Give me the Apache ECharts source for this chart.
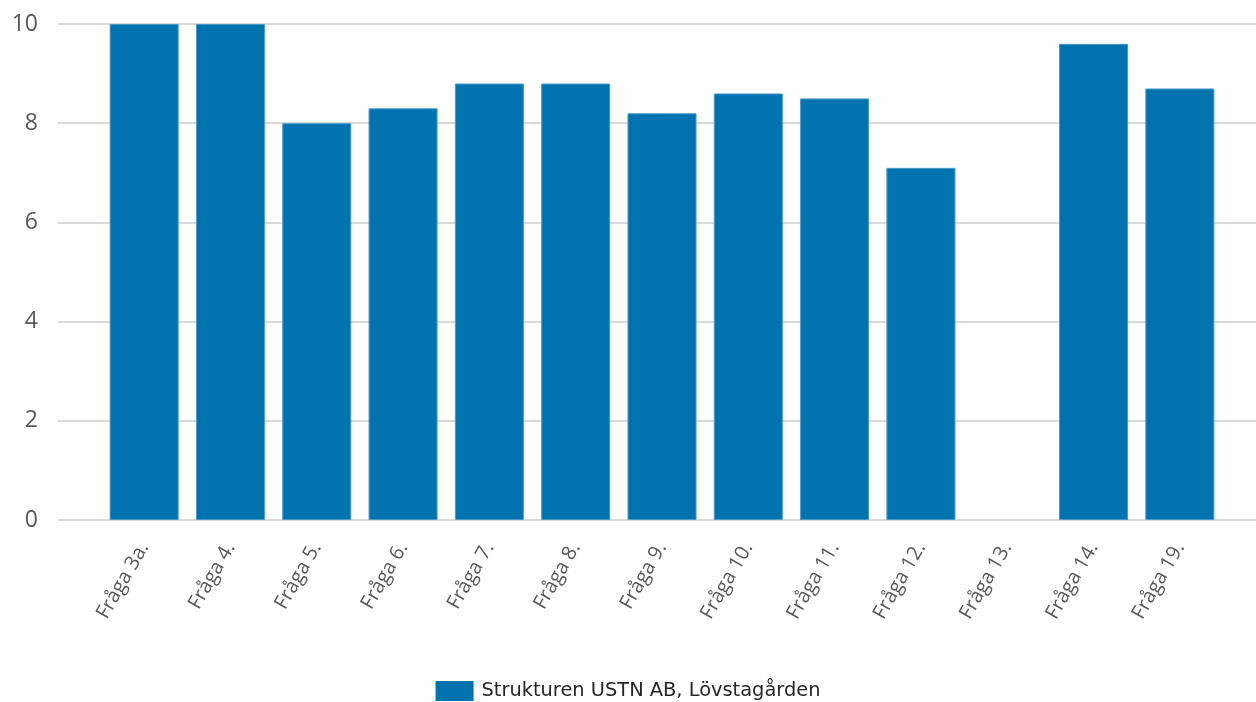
<!DOCTYPE html>
<html><head><meta charset="utf-8">
<script src="https://cdn.jsdelivr.net/npm/echarts@6/dist/echarts.min.js"></script>
<style>html,body{margin:0;padding:0;background:#fff}#c{width:1256px;height:702px}</style>
</head><body><div id="c"></div>
<script>
const categories = ['Fråga 3a.','Fråga 4.','Fråga 5.','Fråga 6.','Fråga 7.','Fråga 8.','Fråga 9.','Fråga 10.','Fråga 11.','Fråga 12.','Fråga 13.','Fråga 14.','Fråga 19.'];
const values = [10, 10, 8.0, 8.3, 8.8, 8.8, 8.2, 8.6, 8.5, 7.1, null, 9.6, 8.7];
const seriesName = 'Strukturen USTN AB, Lövstagården';
const yTicks = {min: 0, max: 10, interval: 2};

const chart = echarts.init(document.getElementById('c'));
chart.setOption({
  animation: false,
  legend: {
    bottom: 1, left: 'center', padding: 0,
    icon: 'rect',
    itemWidth: 38, itemHeight: 20, itemGap: 10,
    itemStyle: {borderWidth: 0},
    textStyle: {fontFamily: 'DejaVu Sans', fontSize: 19.4, color: '#262626', padding: [0, 0, 0, 3]},
    data: [seriesName]
  },
  grid: [
    {left: 58, right: 0, top: 24, bottom: 182, containLabel: false},
    {left: 101, right: 33, top: 24, bottom: 182, containLabel: false}
  ],
  xAxis: [
    {gridIndex: 0, type: 'category', data: categories, show: false},
    {gridIndex: 1, type: 'category', data: categories,
      axisLine: {show: false}, axisTick: {show: false},
      axisLabel: {rotate: 60, interval: 0, margin: 24, fontFamily: 'Open Sans', fontSize: 20, color: '#595959'}}
  ],
  yAxis: [
    {gridIndex: 0, type: 'value', min: yTicks.min, max: yTicks.max, interval: yTicks.interval,
      axisLine: {show: false}, axisTick: {show: false},
      axisLabel: {margin: 20, fontFamily: 'Open Sans', fontSize: 23, color: '#595959'},
      splitLine: {lineStyle: {color: '#d9d9d9', width: 2}}},
    {gridIndex: 1, type: 'value', min: yTicks.min, max: yTicks.max, interval: yTicks.interval,
      show: false, splitLine: {show: false}}
  ],
  series: [{
    name: seriesName, type: 'bar', xAxisIndex: 1, yAxisIndex: 1,
    data: values, barWidth: '80%',
    itemStyle: {color: '#0073AF', borderColor: '#4a9bcb', borderWidth: 1}
  }]
});
</script></body></html>
